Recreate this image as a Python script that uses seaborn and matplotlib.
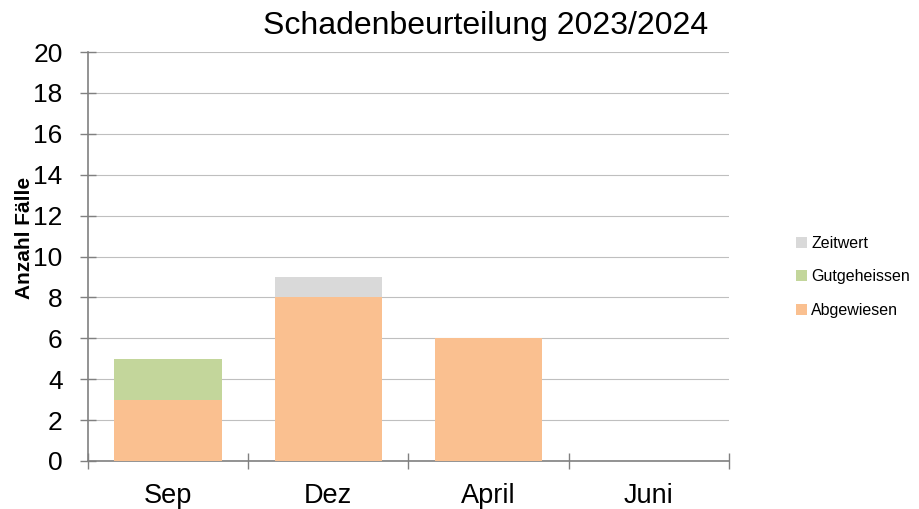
import matplotlib
matplotlib.use("Agg")
import matplotlib.pyplot as plt
import seaborn as sns
import pandas as pd
import numpy as np
from matplotlib.patches import Patch

categories = ["Sep", "Dez", "April", "Juni"]
abgewiesen = [3, 8, 6, 0]
gutgeheissen = [2, 0, 0, 0]
zeitwert = [0, 1, 0, 0]
yticks = [0, 2, 4, 6, 8, 10, 12, 14, 16, 18, 20]

sns.set_theme(style="white")
plt.rcParams['font.family'] = ['Liberation Sans', 'DejaVu Sans']
plt.rcParams['text.color'] = 'black'
plt.rcParams['axes.labelcolor'] = 'black'
plt.rcParams['xtick.color'] = 'black'
plt.rcParams['ytick.color'] = 'black'

c_abg = "#FAC090"
c_gut = "#C3D69B"
c_zeit = "#D9D9D9"

df = pd.DataFrame({"Monat": categories, "Abgewiesen": abgewiesen,
                   "Gutgeheissen": gutgeheissen, "Zeitwert": zeitwert})
df["b2"] = df["Abgewiesen"] + df["Gutgeheissen"]

fig = plt.figure(figsize=(9.2, 5.09), dpi=100)
ax = fig.add_axes([88/920, 1-461/509, (729-88)/920, (461-52)/509])

sns.barplot(data=df, x="Monat", y="Abgewiesen", color=c_abg, width=0.67,
            saturation=1, ax=ax, zorder=3, linewidth=0)
sns.barplot(data=df, x="Monat", y="Gutgeheissen", bottom=df["Abgewiesen"], color=c_gut,
            width=0.67, saturation=1, ax=ax, zorder=3, linewidth=0)
sns.barplot(data=df, x="Monat", y="Zeitwert", bottom=df["b2"], color=c_zeit,
            width=0.67, saturation=1, ax=ax, zorder=3, linewidth=0)

ax.set_xlim(-0.5, 3.5)
ax.set_ylim(0, 20)
ax.set_yticks(yticks)
ax.set_yticklabels([str(v) for v in yticks], fontsize=19, color="black")
ax.set_xticks([-0.5, 0.5, 1.5, 2.5, 3.5])
ax.set_xticklabels([])
ax.set_xticks(range(len(categories)), minor=True)
ax.set_xticklabels(categories, minor=True, fontsize=19.5, color="black")
ax.tick_params(axis="x", which="minor", length=0, pad=16, bottom=True)
ax.tick_params(axis="x", which="major", direction="inout", length=12, width=1,
               color="#808080", bottom=True)
ax.tick_params(axis="y", direction="inout", length=11.5, width=1, color="#808080",
               pad=12.5, left=True)
ax.yaxis.grid(True, color="#BFBFBF", linewidth=0.8, zorder=0)
ax.xaxis.grid(False)
for s in ["top", "right"]:
    ax.spines[s].set_visible(False)
for s in ["left", "bottom"]:
    ax.spines[s].set_color("#808080")
    ax.spines[s].set_linewidth(1.2)
ax.set_xlabel("")
ax.set_ylabel("Anzahl Fälle", fontsize=15, fontweight="bold", color="black")
ax.yaxis.set_label_coords(-0.084, 0.545)

fig.text(486/920, 1-26/509, "Schadenbeurteilung 2023/2024", fontsize=23, ha="center",
         va="center", color="black")

handles = [Patch(facecolor=c_zeit, edgecolor="none"),
           Patch(facecolor=c_gut, edgecolor="none"),
           Patch(facecolor=c_abg, edgecolor="none")]
fig.legend(handles, ["Zeitwert", "Gutgeheissen", "Abgewiesen"], loc="upper left",
           bbox_to_anchor=(796/920, 1-236/509), frameon=False, fontsize=11.5,
           handlelength=0.7, handleheight=0.7, handletextpad=0.25, labelspacing=1.15,
           borderpad=0, borderaxespad=0, labelcolor="black")

fig.savefig("out.png", dpi=100)
